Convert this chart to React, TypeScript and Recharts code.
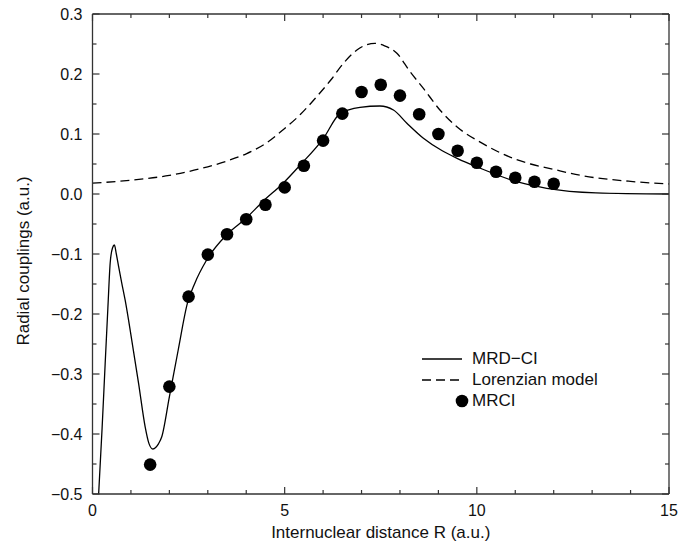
import React from "react";
import { ComposedChart, Line, Scatter, XAxis, YAxis, Legend, Label } from "recharts";

// MRD-CI curve (solid)
const mrdciR = [0.16,0.25,0.33,0.40,0.46,0.52,0.57,0.62,0.68,0.76,0.85,1.02,1.20,1.37,1.47,1.57,1.65,1.72,1.80,2.00,2.23,2.47,2.66,2.97,3.49,4.00,4.44,4.96,5.40,6.00,6.44,6.96,7.48,7.83,8.18,8.61,9.10,9.50,10.05,11.04,11.82,13.10,15.00];
const mrdciV = [-0.5,-0.39,-0.282,-0.19,-0.115,-0.09,-0.085,-0.10,-0.121,-0.148,-0.177,-0.243,-0.316,-0.388,-0.416,-0.425,-0.422,-0.416,-0.405,-0.338,-0.26,-0.182,-0.149,-0.11,-0.068,-0.04,-0.012,0.018,0.048,0.092,0.134,0.1445,0.1467,0.14,0.118,0.093,0.072,0.059,0.044,0.0205,0.0095,0.002,0.0];

// Lorenzian model (dashed)
const lorR = [0,1,2,2.8,3.5,4.0,4.5,4.96,5.4,5.83,6.2,6.53,6.88,7.1,7.35,7.6,7.92,8.26,8.61,9.04,9.48,10.1,10.6,11.0,11.4,12.0,12.7,14.0,15];
const lorV = [0.018,0.023,0.031,0.042,0.055,0.067,0.084,0.107,0.132,0.162,0.19,0.218,0.24,0.248,0.251,0.247,0.2345,0.204,0.176,0.14,0.112,0.086,0.069,0.058,0.05,0.041,0.031,0.021,0.0167];

// MRCI points
const mrciR = [1.5,2,2.5,3,3.5,4,4.5,5,5.5,6,6.5,7,7.5,8,8.5,9,9.5,10,10.5,11,11.5,12];
const mrciV = [-0.451,-0.321,-0.171,-0.101,-0.067,-0.042,-0.018,0.011,0.047,0.089,0.134,0.17,0.182,0.164,0.133,0.1,0.072,0.052,0.037,0.027,0.0205,0.017];

const xTicks = [0,1,2,3,4,5,6,7,8,9,10,11,12,13,14,15];
const yTicks = [-0.5,-0.45,-0.4,-0.35,-0.3,-0.25,-0.2,-0.15,-0.1,-0.05,0,0.05,0.1,0.15,0.2,0.25,0.3];

const mrdci = mrdciR.map((x, i) => ({ x, y: mrdciV[i] }));
const lor = lorR.map((x, i) => ({ x, y: lorV[i] }));
const mrci = mrciR.map((x, i) => ({ x, y: mrciV[i] }));

// layout
const W = 696;
const H = 545;
const M = { top: 13, right: 26, bottom: 0, left: 12.5 };
const YW = 80; // left axis width
const XH = 51; // bottom axis height
const TOPH = 1;
const RIGHTW = 1;
const PL = M.left + YW;
const PR = W - M.right - RIGHTW;
const PT = M.top + TOPH;
const PB = H - M.bottom - XH;

const FONT = "'Liberation Sans', Arial, Helvetica, sans-serif";
const AX = "#333";
const MAJ = 7;
const MIN = 4;

const isMajorX = (v: number) => v % 5 === 0;
const isMajorY = (v: number) => Math.abs(Math.round(v * 10) - v * 10) < 1e-6;
const fmtY = (v: number) => {
  const s = Math.abs(v).toFixed(1);
  return v < -1e-9 ? "\u2212" + s : s;
};

const BottomTick = (p: any) => {
  const v = p.payload.value;
  const major = isMajorX(v);
  return (
    <g>
      <line x1={p.x} x2={p.x} y1={PB} y2={PB - (major ? MAJ : MIN)} stroke={AX} strokeWidth={1.2} />
      {major && (
        <text x={p.x} y={PB + 22} textAnchor="middle" fontSize={16} fontFamily={FONT} fill="#111">
          {String(v)}
        </text>
      )}
    </g>
  );
};
const TopTick = (p: any) => {
  const v = p.payload.value;
  const major = isMajorX(v);
  return <line x1={p.x} x2={p.x} y1={PT} y2={PT + (major ? MAJ : MIN)} stroke={AX} strokeWidth={1.2} />;
};
const LeftTick = (p: any) => {
  const v = p.payload.value;
  const major = isMajorY(v);
  return (
    <g>
      <line x1={PL} x2={PL + (major ? MAJ : MIN)} y1={p.y} y2={p.y} stroke={AX} strokeWidth={1.2} />
      {major && (
        <text x={PL - 10} y={p.y + 6} textAnchor="end" fontSize={16} fontFamily={FONT} fill="#111">
          {fmtY(v)}
        </text>
      )}
    </g>
  );
};
const RightTick = (p: any) => {
  const v = p.payload.value;
  const major = isMajorY(v);
  return <line x1={PR} x2={PR - (major ? MAJ : MIN)} y1={p.y} y2={p.y} stroke={AX} strokeWidth={1.2} />;
};

const LegendContent = () => (
  <div style={{ fontFamily: FONT, fontSize: 17, color: "#111", lineHeight: "21px" }}>
    <div style={{ display: "flex", alignItems: "center" }}>
      <svg width={50} height={21}><line x1={0} x2={40} y1={11} y2={11} stroke="#000" strokeWidth={1.3} /></svg>
      <span>MRD−CI</span>
    </div>
    <div style={{ display: "flex", alignItems: "center" }}>
      <svg width={50} height={21}><line x1={0} x2={40} y1={11} y2={11} stroke="#000" strokeWidth={1.3} strokeDasharray="9 5" /></svg>
      <span>Lorenzian model</span>
    </div>
    <div style={{ display: "flex", alignItems: "center" }}>
      <svg width={50} height={21}><circle cx={40} cy={11} r={6.3} fill="#000" /></svg>
      <span>MRCI</span>
    </div>
  </div>
);

const Dot = (p: any) => <circle cx={p.cx} cy={p.cy} r={6.3} fill="#000" />;

export default function App() {
  return (
    <div style={{ position: "absolute", left: 0, top: 0, width: W, height: H }}>
      <ComposedChart width={W} height={H} margin={M}>
        <XAxis
          xAxisId={0}
          dataKey="x"
          type="number"
          domain={[0, 15]}
          ticks={xTicks}
          interval={0}
          allowDataOverflow
          height={XH}
          tickSize={0}
          tickMargin={0}
          tickLine={false}
          axisLine={{ stroke: AX, strokeWidth: 1.3 }}
          tick={BottomTick}
        >
          <Label
            content={() => (
              <text x={(PL + PR) / 2} y={PB + 44} textAnchor="middle" fontSize={17} fontFamily={FONT} fill="#111">
                Internuclear distance R (a.u.)
              </text>
            )}
          />
        </XAxis>
        <XAxis
          xAxisId="top"
          orientation="top"
          dataKey="x"
          type="number"
          domain={[0, 15]}
          ticks={xTicks}
          interval={0}
          allowDataOverflow
          height={TOPH}
          tickSize={0}
          tickMargin={0}
          tickLine={false}
          axisLine={{ stroke: AX, strokeWidth: 1.3 }}
          tick={TopTick}
        />
        <YAxis
          yAxisId={0}
          type="number"
          domain={[-0.5, 0.3]}
          ticks={yTicks}
          interval={0}
          allowDataOverflow
          width={YW}
          tickSize={0}
          tickMargin={0}
          tickLine={false}
          axisLine={{ stroke: AX, strokeWidth: 1.3 }}
          tick={LeftTick}
        >
          <Label
            content={() => (
              <text
                x={29}
                y={261}
                transform="rotate(-90 29 261)"
                textAnchor="middle"
                fontSize={17}
                fontFamily={FONT}
                fill="#111"
              >
                Radial couplings (a.u.)
              </text>
            )}
          />
        </YAxis>
        <YAxis
          yAxisId="right"
          orientation="right"
          type="number"
          domain={[-0.5, 0.3]}
          ticks={yTicks}
          interval={0}
          allowDataOverflow
          width={RIGHTW}
          tickSize={0}
          tickMargin={0}
          tickLine={false}
          axisLine={{ stroke: AX, strokeWidth: 1.3 }}
          tick={RightTick}
        />
        <Legend
          layout="vertical"
          align="center"
          verticalAlign="middle"
          content={LegendContent}
          wrapperStyle={{ left: 422, top: 348, width: 220 }}
        />
        <Line
          data={lor}
          dataKey="y"
          type="monotone"
          stroke="#000"
          strokeWidth={1.3}
          strokeDasharray="9 5"
          dot={false}
          activeDot={false}
          isAnimationActive={false}
        />
        <Line
          data={mrdci}
          dataKey="y"
          type="monotone"
          stroke="#000"
          strokeWidth={1.3}
          dot={false}
          activeDot={false}
          isAnimationActive={false}
        />
        <Scatter data={mrci} dataKey="y" fill="#000" shape={Dot} isAnimationActive={false} />
      </ComposedChart>
    </div>
  );
}
